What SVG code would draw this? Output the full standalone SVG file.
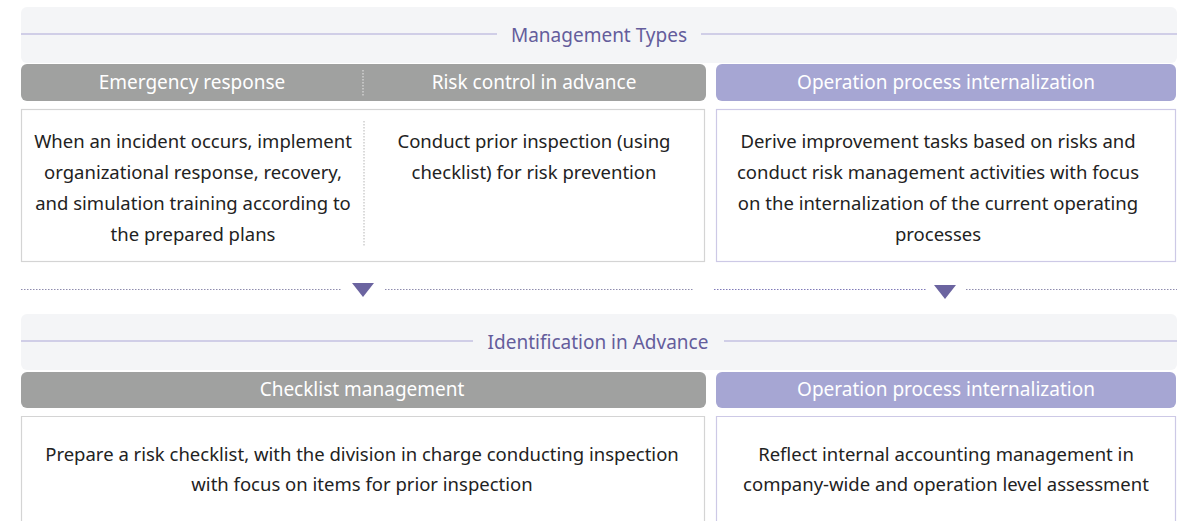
<svg xmlns="http://www.w3.org/2000/svg" width="1187" height="521" viewBox="0 0 1187 521">
<defs>
<style>
.panel{fill:#f4f5f7}
.rule{stroke:#c4c0e2;stroke-width:1.5}
.title{font-family:"Noto Sans","Liberation Sans",sans-serif;font-size:19px;fill:#645d9c;text-anchor:middle}
.hg{fill:#a0a1a0}
.hp{fill:#a6a6d3}
.ht{font-family:"Noto Sans","Liberation Sans",sans-serif;font-size:19px;fill:#ffffff;text-anchor:middle}
.bg{fill:#ffffff;stroke:#d4d4d4;stroke-width:1.2}
.bp{fill:#ffffff;stroke:#cdc9e6;stroke-width:1.2}
.bt{font-family:"Noto Sans","Liberation Sans",sans-serif;font-size:18.5px;fill:#222222;text-anchor:middle}
.dot{stroke:#8f8cae;stroke-width:1;stroke-dasharray:1.5 1.5;fill:none}
.vdot{stroke:#b5b5b5;stroke-width:1;stroke-dasharray:1.5 1.5;fill:none}
.wdot{stroke:#e8e8e8;stroke-width:1;stroke-dasharray:1.5 1.5;fill:none}
.tri{fill:#6b64a0}
</style>
</defs>
<g id="panel-management-types">
<rect class="panel" x="21" y="7" width="1156" height="56" rx="6"/>
<line class="rule" x1="21" y1="34" x2="497" y2="34"/>
<line class="rule" x1="701" y1="34" x2="1177" y2="34"/>
<text class="title" x="599" y="42">Management Types</text>
</g>
<g id="header-emergency-risk">
<rect class="hg" x="21" y="64" width="685" height="37" rx="6"/>
<line class="wdot" x1="363" y1="70" x2="363" y2="96"/>
<text class="ht" x="192" y="89">Emergency response</text>
<text class="ht" x="534" y="89">Risk control in advance</text>
</g>
<g id="header-operation-1">
<rect class="hp" x="716" y="64" width="460" height="37" rx="6"/>
<text class="ht" x="946" y="89">Operation process internalization</text>
</g>
<g id="box-emergency-risk">
<rect class="bg" x="21.5" y="109.5" width="683" height="152"/>
<line class="vdot" x1="364" y1="121" x2="364" y2="246"/>
<text class="bt" x="193" y="148">When an incident occurs, implement</text>
<text class="bt" x="193" y="179">organizational response, recovery,</text>
<text class="bt" x="193" y="210">and simulation training according to</text>
<text class="bt" x="193" y="241">the prepared plans</text>
<text class="bt" x="534" y="148">Conduct prior inspection (using</text>
<text class="bt" x="534" y="179">checklist) for risk prevention</text>
</g>
<g id="box-operation-1">
<rect class="bp" x="716.5" y="109.5" width="459" height="152"/>
<text class="bt" x="938" y="148">Derive improvement tasks based on risks and</text>
<text class="bt" x="938" y="179">conduct risk management activities with focus</text>
<text class="bt" x="938" y="210">on the internalization of the current operating</text>
<text class="bt" x="938" y="241">processes</text>
</g>
<g id="connectors">
<line class="dot" x1="21" y1="289.5" x2="341" y2="289.5"/>
<polygon class="tri" points="352,283 374,283 363,297"/>
<line class="dot" x1="385" y1="289.5" x2="693" y2="289.5"/>
<line class="dot" x1="714" y1="289.5" x2="926" y2="289.5" style="stroke:#7f79b8"/>
<polygon class="tri" points="934,285 956,285 945,299"/>
<line class="dot" x1="966" y1="289.5" x2="1177" y2="289.5"/>
</g>
<g id="panel-identification">
<rect class="panel" x="21" y="314" width="1156" height="56" rx="6"/>
<line class="rule" x1="21" y1="341" x2="473" y2="341"/>
<line class="rule" x1="724" y1="341" x2="1177" y2="341"/>
<text class="title" x="598" y="349">Identification in Advance</text>
</g>
<g id="header-checklist">
<rect class="hg" x="21" y="372" width="685" height="36" rx="6"/>
<text class="ht" x="362" y="396">Checklist management</text>
</g>
<g id="header-operation-2">
<rect class="hp" x="716" y="372" width="460" height="36" rx="6"/>
<text class="ht" x="946" y="396">Operation process internalization</text>
</g>
<g id="box-checklist">
<path class="bg" d="M21.5,530 V416.5 H704.5 V530"/>
<text class="bt" x="362" y="461">Prepare a risk checklist, with the division in charge conducting inspection</text>
<text class="bt" x="362" y="491">with focus on items for prior inspection</text>
</g>
<g id="box-operation-2">
<path class="bp" d="M716.5,530 V416.5 H1175.5 V530"/>
<text class="bt" x="946" y="461">Reflect internal accounting management in</text>
<text class="bt" x="946" y="491">company-wide and operation level assessment</text>
</g>
</svg>
